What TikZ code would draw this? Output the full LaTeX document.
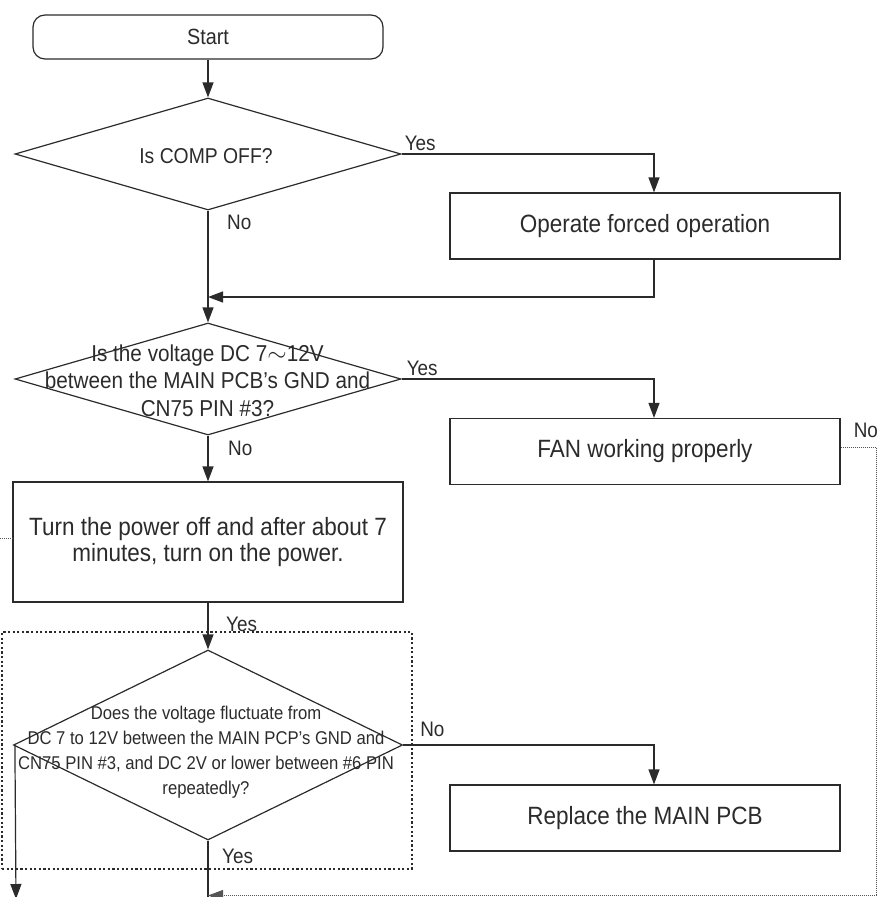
\documentclass[tikz,border=0pt]{standalone}
\usepackage{fontspec}
\setmainfont{Liberation Sans}[FakeStretch=0.9]
\usetikzlibrary{arrows.meta,shapes.geometric}
\definecolor{ink}{HTML}{2B2B2B}
\definecolor{dots}{HTML}{555555}
\tikzset{
  flowline/.style={ink,line width=1.2pt},
  flowarr/.style={flowline,-{Triangle[length=15pt,width=11pt]}},
  stepbox/.style={draw=ink,line width=1.2pt,minimum width=390pt,minimum height=66pt,inner sep=0pt,font=\fontsize{25}{26.5}\selectfont,text=ink,align=center},
  askshape/.style={diamond,draw=ink,line width=1.2pt,inner sep=0pt,minimum width=386pt,minimum height=112pt},
  asktext/.style={align=center,text=ink,inner sep=0pt},
  lbl/.style={text=ink,inner sep=0pt,font=\fontsize{21}{24}\selectfont},
  thinloop/.style={dots,line width=0.9pt,dash pattern=on 1pt off 1pt},
  zone/.style={draw=ink,line width=2.2pt,dash pattern=on 2.2pt off 2.4pt}
}

\begin{document}
\begin{tikzpicture}[x=1pt,y=-1pt]
\useasboundingbox (0,0) rectangle (877,897);
% boxes and questions
\node[stepbox,rounded corners=12pt,minimum width=350pt,minimum height=44pt,font=\fontsize{22}{24}\selectfont] (start) at (208,37) {Start};
\node[askshape] (d1) at (208,154) {};
\node[asktext,font=\fontsize{21.5}{26}\selectfont] (q1) at (206,156) {Is COMP OFF?};
\node[stepbox] (forced) at (645,226) {Operate forced operation};
\node[askshape] (d2) at (208,379) {};
\node[asktext,font=\fontsize{23}{27.5}\selectfont] (q2) at (207.5,380.5) {Is the voltage DC 7$\sim$12V\\between the MAIN PCB's GND and\\CN75 PIN \#3?};
\node[stepbox] (fan) at (645,451.5) {FAN working properly};
\node[stepbox,minimum height=120pt] (restart) at (208,542) {Turn the power off and after about 7\\minutes, turn on the power.};
\node[zone,minimum width=410pt,minimum height=237pt] (check) at (207,750.5) {};
\node[askshape,minimum width=389pt,minimum height=190pt] (d3) at (208,745) {};
\node[asktext,font=\fontsize{18.5}{25}\selectfont] (q3) at (206,752) {Does the voltage fluctuate from\\DC 7 to 12V between the MAIN PCP's GND and\\CN75 PIN \#3, and DC 2V or lower between \#6 PIN\\repeatedly?};
\node[stepbox] (pcb) at (645,818) {Replace the MAIN PCB};
% connectors
\coordinate (j1) at (208,297);
\coordinate (outyes) at (208,897);
\coordinate (outno) at (16,899);
\coordinate (loopin) at (208,895.5);
\coordinate (offl) at (0,538);
\draw[flowarr] (start) -- (d1);
\draw[flowarr] (d1.east) -| ([xshift=9pt]forced.north);
\draw[flowarr] ([xshift=9pt]forced.south) |- (j1);
\draw[flowarr] (d1) -- (d2);
\draw[flowarr] (d2.east) -| ([xshift=9pt]fan.north);
\draw[flowarr] (d2) -- (restart);
\draw[flowarr] (restart) -- (d3);
\draw[flowarr] (d3.east) -| ([xshift=9pt]pcb.north);
\draw[flowline] (d3.south) -- (outyes);
\draw[flowarr] ([xshift=2pt]d3.west) -- (outno);
\draw[thinloop,-{Triangle[length=15pt,width=11pt]}] ([yshift=4pt]fan.east) -- ++(36,0) |- (loopin);
\draw[thinloop] (offl) -- (offl -| restart.west);
% yes / no
\node[lbl,anchor=base west] (yes1) at ([shift={(3,-4)}]d1.east) {Yes};
\node[lbl,anchor=base west] (no1) at ([shift={(19,19)}]d1.south) {No};
\node[lbl,anchor=base west] (yes2) at ([shift={(5,-4)}]d2.east) {Yes};
\node[lbl,anchor=base west] (no2) at ([shift={(20,20)}]d2.south) {No};
\node[lbl,anchor=base west] (yes3) at ([shift={(18,29)}]restart.south) {Yes};
\node[lbl,anchor=base west] (no3) at ([shift={(17,-9)}]d3.east) {No};
\node[lbl,anchor=base west] (yes4) at ([shift={(14,23)}]d3.south) {Yes};
\node[lbl,anchor=base west] (no4) at ([shift={(13,-14)}]fan.east) {No};
\end{tikzpicture}
\end{document}
